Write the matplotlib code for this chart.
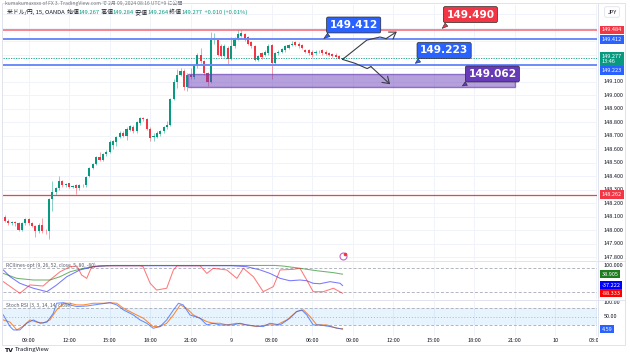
import matplotlib.pyplot as plt
import numpy as np
from matplotlib.patches import Rectangle

plt.rcParams['font.family'] = ['Noto Sans CJK JP', 'DejaVu Sans']

W, H = 630, 354

GREEN = '#089981'
RED = '#F23645'
BLUE = '#2962FF'
PURPLE = '#673AB7'
TXT = '#131722'
GRID = '#F0F3FA'

# USD/JPY 15m candles, index 0 = 07:15 on the 8th
opens = [148.100, 148.070, 148.055, 148.060, 148.050, 148.000, 148.050, 148.080, 148.050, 148.030,
         147.990, 148.040, 147.995, 147.990, 148.230, 148.280, 148.310, 148.360, 148.335, 148.345,
         148.320, 148.330, 148.310, 148.330, 148.330, 148.400, 148.460, 148.490, 148.540, 148.520,
         148.560, 148.580, 148.630, 148.650, 148.690, 148.720, 148.700, 148.740, 148.760, 148.730,
         148.790, 148.830, 148.820, 148.750, 148.690, 148.690, 148.710, 148.730, 148.760, 148.780,
         148.970, 149.100, 149.150, 149.180, 149.060, 149.150, 149.130, 149.220, 149.300, 149.250,
         149.160, 149.100, 149.410, 149.410, 149.360, 149.290, 149.350, 149.270, 149.360, 149.420,
         149.440, 149.450, 149.430, 149.390, 149.360, 149.260, 149.310, 149.300, 149.310, 149.370,
         149.235, 149.310, 149.320, 149.330, 149.345, 149.370, 149.390, 149.380, 149.370, 149.330,
         149.330, 149.320, 149.310, 149.320, 149.330, 149.320, 149.310, 149.305, 149.300, 149.290,
         149.267]
highs = [148.110, 148.080, 148.070, 148.070, 148.060, 148.060, 148.090, 148.090, 148.060, 148.040,
         148.050, 148.090, 148.010, 148.240, 148.360, 148.320, 148.400, 148.370, 148.350, 148.350,
         148.330, 148.340, 148.340, 148.340, 148.400, 148.470, 148.500, 148.550, 148.580, 148.570,
         148.590, 148.670, 148.670, 148.700, 148.730, 148.730, 148.760, 148.780, 148.780, 148.810,
         148.840, 148.840, 148.830, 148.760, 148.720, 148.730, 148.740, 148.770, 148.810, 148.980,
         149.120, 149.190, 149.200, 149.190, 149.160, 149.200, 149.230, 149.310, 149.350, 149.260,
         149.170, 149.470, 149.460, 149.420, 149.380, 149.380, 149.360, 149.430, 149.430, 149.490,
         149.490, 149.460, 149.440, 149.400, 149.370, 149.300, 149.320, 149.330, 149.380, 149.380,
         149.320, 149.330, 149.350, 149.370, 149.380, 149.400, 149.400, 149.390, 149.380, 149.340,
         149.340, 149.330, 149.330, 149.330, 149.340, 149.330, 149.320, 149.310, 149.310, 149.295,
         149.284]
lows = [148.060, 148.040, 148.040, 148.030, 147.990, 147.990, 148.040, 148.040, 148.020, 147.950,
        147.980, 147.980, 147.970, 147.930, 148.140, 148.260, 148.300, 148.320, 148.320, 148.310,
        148.310, 148.270, 148.300, 148.320, 148.320, 148.390, 148.450, 148.480, 148.510, 148.510,
        148.550, 148.570, 148.600, 148.620, 148.680, 148.690, 148.670, 148.730, 148.720, 148.720,
        148.780, 148.810, 148.740, 148.660, 148.660, 148.680, 148.700, 148.720, 148.750, 148.770,
        148.960, 149.050, 149.140, 149.040, 149.030, 149.120, 149.120, 149.200, 149.240, 149.150,
        149.070, 149.090, 149.380, 149.290, 149.280, 149.280, 149.220, 149.260, 149.350, 149.410,
        149.430, 149.400, 149.370, 149.350, 149.250, 149.250, 149.270, 149.290, 149.300, 149.120,
        149.225, 149.300, 149.310, 149.320, 149.340, 149.360, 149.360, 149.350, 149.340, 149.310,
        149.300, 149.280, 149.300, 149.310, 149.300, 149.300, 149.290, 149.285, 149.280, 149.265,
        149.264]
closes = [148.070, 148.055, 148.060, 148.050, 148.000, 148.050, 148.080, 148.050, 148.030, 147.990,
          148.040, 147.990, 147.990, 148.230, 148.280, 148.310, 148.360, 148.330, 148.340, 148.320,
          148.325, 148.310, 148.330, 148.335, 148.395, 148.460, 148.490, 148.540, 148.520, 148.560,
          148.580, 148.650, 148.660, 148.690, 148.720, 148.700, 148.750, 148.770, 148.730, 148.800,
          148.830, 148.820, 148.750, 148.680, 148.700, 148.720, 148.730, 148.760, 148.780, 148.970,
          149.100, 149.150, 149.180, 149.060, 149.150, 149.130, 149.220, 149.300, 149.250, 149.160,
          149.100, 149.410, 149.420, 149.300, 149.290, 149.360, 149.270, 149.360, 149.420, 149.450,
          149.460, 149.410, 149.380, 149.360, 149.260, 149.290, 149.280, 149.320, 149.360, 149.235,
          149.310, 149.320, 149.340, 149.360, 149.370, 149.380, 149.370, 149.360, 149.350, 149.320,
          149.310, 149.300, 149.320, 149.318, 149.310, 149.305, 149.295, 149.290, 149.285, 149.270,
          149.277]

time_ticks = [7, 19, 31, 43, 55, 67, 79, 91, 103, 115, 127, 139, 151, 163, 175]
time_labels = ['09:00', '12:00', '15:00', '18:00', '21:00', '9', '03:00', '06:00',
               '09:00', '12:00', '15:00', '18:00', '21:00', '10', '03:00']
price_ticks = [147.8, 147.9, 148.0, 148.1, 148.2, 148.3, 148.4, 148.5, 148.6, 148.7,
               148.8, 148.9, 149.0, 149.1]

# horizontal lines: price, colour, width
level_price = [149.484, 149.412, 149.223, 148.262]
level_color = ['#F7707B', '#6C8CF8', '#6C8CF8', '#E8434F']
level_width = [1.2, 1.4, 1.4, 0.9]
# price axis tags: y position, text, colour
tag_y = [149.484, 149.412, 149.265, 149.181, 148.262]
tag_text = ['149.484', '149.412', '149.277\n13:46', '149.223', '148.262']
tag_color = [RED, BLUE, GREEN, BLUE, RED]

last_price = 149.277
zone = (54.2, 151.1, 149.060, 149.153)  # idx from, idx to, low, high

callout_text = ['149.412', '149.490', '149.223', '149.062']
callout_color = [BLUE, RED, BLUE, PURPLE]
callout_box = [(103.3, 149.519), (137.9, 149.596), (130.1, 149.330), (144.4, 149.156)]
callout_tip = [(93.8, 149.407), (128.9, 149.480), (120.9, 149.222), (134.8, 149.057)]

up_path_i = [100, 107.2, 111.1, 112.9, 116.1]
up_path_p = [149.264, 149.407, 149.430, 149.418, 149.470]
dn_path_i = [100, 103.7, 107.3, 108.4, 114.1]
dn_path_p = [149.264, 149.235, 149.196, 149.211, 149.080]

# RCI lines (9, 26, 52)
rci9_i = [-0.5, 4.4, 7.4, 11.3, 13.3, 16.3, 19.3, 21.3, 22.7, 24.2, 25.7, 28.1, 40, 40.9, 43,
          44.9, 47.9, 49.9, 51, 57.8, 59.8, 61.7, 65.7, 68.7, 70.6, 73.6, 76.5, 79.5, 81.5,
          85.4, 87.4, 89.4, 91.3, 94.3, 97.3, 100]
rci9_v = [-11, -89, -33, -40, 0, 55, 89, 93, 33, 11, 89, 95, 95, 89, -22,
          -67, -55, 67, 95, 95, 44, 78, 67, 11, 78, 22, -78, -44, 67,
          71, 78, 0, -78, -78, -55, -88.333]
rci26_i = [-0.5, 1.5, 4.4, 8.4, 12.4, 15.3, 18.3, 22.2, 26.2, 30, 67, 71.6, 75.6, 78.5, 81.5,
           84.4, 87.4, 89.4, 91.3, 93.3, 96.3, 99.3, 100]
rci26_v = [67, 22, -22, -55, -78, -33, 22, 67, 89, 95, 95, 89, 67, 44, 11,
           -5, 0, -5, -22, -25, -11, -22, -37.222]
rci52_i = [-0.5, 3.5, 8.4, 13.3, 16.3, 19.3, 23.2, 28.1, 32, 80, 82.5, 87.4, 92.3, 97.3, 100]
rci52_v = [44, 11, 0, 0, 22, 55, 78, 93, 97, 97, 93, 78, 62, 49, 38.905]

# Stoch RSI
k_i = [-0.5, 1.5, 2.5, 4.4, 6.4, 8.4, 10.4, 12.4, 14.3, 15.3, 17.3, 19.3, 21.2, 24.2, 28.1,
       31.1, 33.1, 35.1, 38, 40, 42, 43.9, 45.9, 47.9, 49.9, 51.4, 52.8, 54.8, 57.8, 59.8,
       61.7, 63.7, 65.7, 67.6, 69.6, 71.6, 73.6, 76.5, 78.5, 81.5, 84.4, 86.4, 87.9, 89.4,
       91.3, 93.3, 96.3, 100]
k_v = [56, 14, 2, 2, 26, 38, 26, 30, 62, 98, 100, 92, 86, 88, 95,
       100, 92, 74, 56, 38, 26, 8, 14, 38, 74, 98, 92, 56, 44, 20,
       26, 20, 20, 20, 26, 20, 17, 14, 26, 20, 44, 68, 74, 56,
       20, 20, 14, 4.59]
d_i = [-0.5, 1.5, 3.5, 5.4, 7.4, 9.4, 11.3, 13.3, 15.3, 17.3, 19.3, 21.2, 23.2, 26.2, 29.1,
       31.1, 33.1, 35.1, 38, 41, 43.9, 45.9, 47.9, 49.9, 51.9, 53.8, 55.8, 57.8, 59.8, 61.7,
       63.7, 65.7, 68.7, 71.6, 74.6, 77.5, 80.5, 83.5, 86.4, 88.4, 90.4, 92.4, 95.3, 98.3, 100]
d_v = [38, 30, 2, 16, 38, 30, 27, 38, 74, 98, 98, 92, 92, 98, 98,
       100, 98, 80, 62, 44, 14, 14, 26, 56, 92, 80, 56, 44, 32, 26,
       26, 20, 26, 20, 14, 20, 20, 38, 68, 74, 50, 20, 20, 8, 6.49]


def rect(x0, y0, x1, y1):
    return [x0 / W, 1 - y1 / H, (x1 - x0) / W, (y1 - y0) / H]


def clean(a):
    for s in a.spines.values():
        s.set_visible(False)
    a.tick_params(length=0, labelleft=False, labelbottom=False)
    for t in time_ticks:
        a.axvline(t, color=GRID, lw=0.7, zorder=0)


def axis_label(a, y, s, fc=None, fs=4):
    tr = a.get_yaxis_transform()
    if fc is None:
        a.text(1.011, y, s, transform=tr, fontsize=fs, color=TXT, va='center', ha='left')
    else:
        a.text(1.008, y, s, transform=tr, fontsize=fs, color='white', va='center', ha='left',
               zorder=5, linespacing=1.1,
               bbox=dict(boxstyle='square,pad=0.3', fc=fc, ec='none'))


def colored_line(x, y, parts, fs):
    t = fig.text(x, y, parts[0][0], color=parts[0][1], fontsize=fs, va='center')
    for s, col in parts[1:]:
        t = ax.annotate(s, xy=(1, 0), xycoords=t, fontsize=fs, color=col, va='bottom', ha='left')


fig = plt.figure(figsize=(W / 100, H / 100), dpi=100)
ax = fig.add_axes(rect(3, 5, 597, 260))
ax_rci = fig.add_axes(rect(3, 261, 597, 299), sharex=ax)
ax_st = fig.add_axes(rect(3, 300, 597, 336), sharex=ax)
for a in (ax, ax_rci, ax_st):
    clean(a)

# ---- main pane
ax.set_xlim(-0.6, 175.4)
ax.set_ylim(147.778, 149.667)
for p in price_ticks + [149.2, 149.3, 149.4, 149.5, 149.6]:
    ax.axhline(p, color=GRID, lw=0.7, zorder=0)

o = np.array(opens)
c = np.array(closes)
idx = np.arange(len(c))
col = np.where(c >= o, GREEN, RED)
ax.vlines(idx, lows, highs, colors=col, lw=0.6, alpha=0.55, zorder=2)
ax.bar(idx, np.maximum(np.abs(c - o), 0.004), bottom=np.minimum(o, c), width=0.62,
       color=col, lw=0, zorder=3)

for p, cl, lw in zip(level_price, level_color, level_width):
    ax.axhline(p, color=cl, lw=lw, zorder=4)
ax.axhline(last_price, color=GREEN, lw=0.6, ls=(0, (1.5, 1.5)), zorder=4)

ax.add_patch(Rectangle((zone[0], zone[2]), zone[1] - zone[0], zone[3] - zone[2],
                       fc=(0.404, 0.227, 0.718, 0.48), ec=(0.404, 0.227, 0.718, 0.65),
                       lw=1, zorder=5))

for pi, pp in ((up_path_i, up_path_p), (dn_path_i, dn_path_p)):
    ax.plot(pi[:-1], pp[:-1], color='#3a3d45', lw=0.8, zorder=6)
    ax.annotate('', xy=(pi[-1], pp[-1]), xytext=(pi[-2], pp[-2]), zorder=6,
                arrowprops=dict(arrowstyle='->,head_length=0.45,head_width=0.3',
                                color='#3a3d45', lw=0.8, shrinkA=0, shrinkB=0))

for s, cl, (bx, by), (tx, ty) in zip(callout_text, callout_color, callout_box, callout_tip):
    ax.annotate(s, xy=(tx, ty), xytext=(bx, by), ha='center', va='center', fontsize=7.6,
                fontweight='bold', color='white', family='DejaVu Sans', zorder=8,
                bbox=dict(boxstyle='round,pad=0.28,rounding_size=0.15', fc=cl, ec='#2a2a2a', lw=0.5),
                arrowprops=dict(arrowstyle='wedge,tail_width=0.4,shrink_factor=0.5',
                                fc=cl, ec='#2a2a2a', lw=0.4, relpos=(0.12, 0.0)))

# event marker
ax.plot([100], [147.807], marker='o', ms=5, mfc='white', mec='#BA68C8', mew=0.8, zorder=7,
        clip_on=False)
ax.plot([100.8], [147.822], marker='o', ms=1.6, color=RED, zorder=8, clip_on=False)

for p in price_ticks:
    axis_label(ax, p, f'{p:.3f}')
for y, s, cl in zip(tag_y, tag_text, tag_color):
    axis_label(ax, y, s, cl)

# ---- RCI pane
ax_rci.set_ylim(-126.7, 126.7)
for lv in (80, -80):
    ax_rci.axhline(lv, color='#B2B5BE', lw=0.7, ls=(0, (3, 2)))
ax_rci.plot(rci52_i, rci52_v, color='#3C9A3C', lw=0.75, alpha=0.75)
ax_rci.plot(rci26_i, rci26_v, color='#3030FF', lw=0.75, alpha=0.65)
ax_rci.plot(rci9_i, rci9_v, color='#FF2020', lw=0.75, alpha=0.6)
axis_label(ax_rci, 100, '100.000')
axis_label(ax_rci, 38.905, '38.905', '#1E7B1E')
axis_label(ax_rci, -37.222, '-37.222', '#0000FF')
axis_label(ax_rci, -88.333, '-88.333', '#FF0000')

# ---- Stoch RSI pane
ax_st.set_ylim(-19.8, 109.7)
ax_st.axhspan(20, 80, color='#2196F3', alpha=0.1, lw=0)
for lv, ls in ((80, (0, (3, 2))), (50, (0, (1, 2))), (20, (0, (3, 2)))):
    ax_st.axhline(lv, color='#B2B5BE', lw=0.7, ls=ls)
ax_st.plot(d_i, d_v, color='#FF6D00', lw=0.75, alpha=0.8)
ax_st.plot(k_i, k_v, color=BLUE, lw=0.75, alpha=0.7)
axis_label(ax_st, 100, '100.00')
axis_label(ax_st, 50, '50.00')
axis_label(ax_st, 4.59, '4.59', BLUE)

ax_st.set_xticks(time_ticks)
ax_st.set_xticklabels(time_labels)
ax_st.tick_params(axis='x', labelbottom=True, labelsize=4, labelcolor=TXT, pad=1.5)

# ---- separators, frame, covers
line_kw = dict(color='#E0E3EB', lw=0.7, transform=fig.transFigure)
for yy in (260.7, 299.5):
    fig.add_artist(plt.Line2D([3 / W, 625 / W], [1 - yy / H] * 2, **line_kw))
fig.add_artist(plt.Line2D([597.5 / W] * 2, [1 - 345 / H, 1 - 3 / H], **line_kw))
fig.add_artist(Rectangle((2 / W, 1 - 345 / H), 623 / W, 342 / H, fill=False,
                         ec='#E0E3EB', lw=0.7, transform=fig.transFigure))
fig.add_artist(Rectangle((598 / W, 1 - 345 / H), 26 / W, 8.5 / H, fc='white', ec='none',
                         transform=fig.transFigure, zorder=5))

# ---- header texts
fig.text(5 / W, 1 - 0.2 / H, 'kumakumaxxxx of FX 3. TradingView.com で 2月 09, 2024 08:16 UTC+9 に公開',
         fontsize=3.6, color='#787B86', va='top')
colored_line(7 / W, 1 - 12 / H, [('米ドル/円, 15, OANDA  始値', TXT), ('149.267', GREEN),
                                 (' 高値', TXT), ('149.284', GREEN), (' 安値', TXT),
                                 ('149.264', GREEN), (' 終値', TXT), ('149.277', GREEN),
                                 ('  +0.010 (+0.01%)', GREEN)], 4.2)
colored_line(6 / W, 1 - 265 / H, [('RCIlines-opt (9, 26, 52, close, 5, 80, -80)  ', '#555a66'),
                                  ('-88.333', '#FF0000'), ('  -37.222', '#0000FF'),
                                  ('  38.905', '#1E7B1E')], 3.6)
colored_line(6 / W, 1 - 305 / H, [('Stoch RSI (3, 3, 14, 14, close)  ', '#555a66'),
                                  ('4.59', BLUE), ('  6.49', '#FF6D00')], 3.6)
fig.text(612 / W, 1 - 12 / H, 'JPY', fontsize=4, color=TXT, ha='center', va='center',
         bbox=dict(boxstyle='round,pad=0.5,rounding_size=0.3', fc='white', ec='#E0E3EB', lw=0.6))
fig.text(4 / W, 1 - 350 / H, 'TV', fontsize=4.5, color=TXT, va='center', fontweight='bold',
         family='DejaVu Sans')
fig.text(15 / W, 1 - 350 / H, 'TradingView', fontsize=4.3, color=TXT, va='center')

fig.savefig('out.png', dpi=100)
